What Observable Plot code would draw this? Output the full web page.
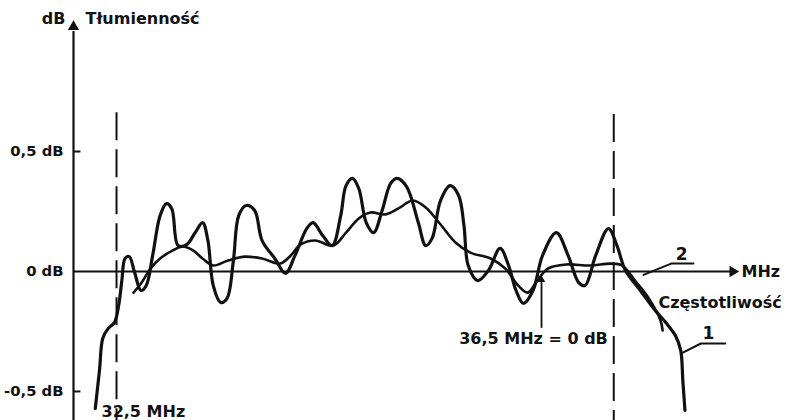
<!DOCTYPE html>
<html><head><meta charset="utf-8">
<script src="https://cdn.jsdelivr.net/npm/d3@7"></script>
<script src="https://cdn.jsdelivr.net/npm/@observablehq/plot@0.6"></script>
<style>body{margin:0;background:#fff} svg{display:block}</style>
</head><body><div id="chart"></div>
<script>
// Curve 1 (thick, strongly rippled)
const curve1MHz = [32.30,32.34,32.37,32.42,32.48,32.52,32.55,32.58,32.62,32.67,32.73,32.78,32.84,32.91,32.97,33.02,33.08,33.16,33.24,33.31,33.36,33.41,33.48,33.54,33.60,33.65,33.72,33.80,33.87,33.99,34.09,34.18,34.29,34.35,34.44,34.53,34.61,34.66,34.72,34.78,34.85,34.92,35.00,35.08,35.14,35.23,35.34,35.41,35.47,35.55,35.64,35.72,35.77,35.81,35.90,36.00,36.11,36.19,36.26,36.33,36.42,36.51,36.64,36.75,36.85,36.91,37.01,37.13,37.21,37.29,37.43,37.57,37.67,37.76,37.81,37.83,37.85];
const curve1dB = [-0.571,-0.41,-0.279,-0.238,-0.213,-0.142,-0.038,0.054,0.062,-0.004,-0.079,-0.058,0.067,0.233,0.283,0.262,0.108,0.112,0.162,0.204,0.129,-0.058,-0.129,-0.112,0.046,0.233,0.275,0.254,0.129,0.054,-0.008,0.067,0.179,0.204,0.15,0.108,0.233,0.358,0.388,0.346,0.204,0.162,0.254,0.367,0.388,0.354,0.204,0.108,0.138,0.296,0.358,0.317,0.192,0.025,-0.038,0.004,0.096,0.025,-0.079,-0.133,-0.079,0.067,0.162,0.067,-0.046,-0.058,0.067,0.179,0.108,0.004,-0.079,-0.162,-0.213,-0.267,-0.329,-0.454,-0.579];
// Curve 2 (thinner, smoother)
const curve2MHz = [32.66,32.73,32.82,32.91,33.03,33.12,33.22,33.31,33.41,33.55,33.71,33.87,34.04,34.14,34.23,34.37,34.54,34.66,34.78,34.89,35.03,35.15,35.29,35.41,35.55,35.69,35.83,36.02,36.16,36.28,36.37,36.46,36.56,36.73,36.96,37.15,37.26,37.38,37.51,37.62,37.64];
const curve2dB = [-0.088,-0.05,0.012,0.054,0.088,0.104,0.088,0.054,0.025,0.046,0.062,0.054,0.033,0.067,0.112,0.129,0.108,0.162,0.221,0.246,0.238,0.262,0.296,0.267,0.196,0.121,0.079,0.054,0.012,-0.058,-0.088,-0.038,0.012,0.029,0.025,0.033,0.025,-0.038,-0.112,-0.204,-0.246];

const yTicks = [0.5, 0, -0.5];
const yTickLabels = ["0,5 dB", "0 dB", "-0,5 dB"];
const markerMHz = [32.5, 37.18];
const refMHz = 36.5;
const xMin = 32.095, xMax = 38.354, yMin = -0.621, yMax = 1.067;

const c1 = curve1MHz.map((f, i) => ({f, db: curve1dB[i]}));
const c2 = curve2MHz.map((f, i) => ({f, db: curve2dB[i]}));

const FONT = "'DejaVu Sans', sans-serif";
const txt = (data, o) => Plot.text(data, {fill: "#111", fontSize: 16, fontWeight: "bold", fontFamily: FONT, ...o});

const chart = Plot.plot({
  width: 796, height: 420,
  marginTop: 0, marginBottom: 0, marginLeft: 0, marginRight: 0,
  x: {domain: [xMin, xMax], range: [73, 738], axis: null},
  y: {domain: [yMin, yMax], range: [420, 15], axis: null},
  style: {background: "#fff"},
  marks: [
    // dashed markers
    Plot.ruleX(markerMHz, {x: d => d, y1: [0.662, 0.654], y2: yMin, stroke: "#111", strokeWidth: 2, strokeDasharray: "28,9"}),
    // axes
    Plot.ruleX([xMin], {y1: yMin, y2: 1.0, stroke: "#111", strokeWidth: 2.2}),
    Plot.dot([{f: xMin, db: 1.02}], {x: "f", y: "db", symbol: "triangle", r: 4.2, fill: "#111", stroke: "none"}),
    Plot.ruleY([0], {x1: xMin, x2: 38.31, stroke: "#111", strokeWidth: 1.8}),
    Plot.dot([{f: 38.30, db: 0}], {x: "f", y: "db", symbol: "triangle", rotate: 90, r: 4.2, fill: "#111", stroke: "none"}),
    Plot.ruleY([0.5, -0.5], {x1: xMin, x2: 32.165, stroke: "#111", strokeWidth: 2}),
    txt(yTicks.map((v, i) => ({v, t: yTickLabels[i]})), {x: xMin, y: "v", text: "t", textAnchor: "end", dx: -10, fontSize: 14.8}),
    // curves
    Plot.line(c2, {x: "f", y: "db", curve: "catmull-rom", stroke: "#111", strokeWidth: 2.6}),
    Plot.line(c1, {x: "f", y: "db", curve: "catmull-rom", stroke: "#111", strokeWidth: 3.2}),
    // leaders for curve labels
    Plot.line([{f: 37.46, db: -0.014}, {f: 37.72, db: 0.033}, {f: 37.93, db: 0.033}], {x: "f", y: "db", stroke: "#111", strokeWidth: 2}),
    Plot.line([{f: 37.83, db: -0.338}, {f: 38.0, db: -0.30}, {f: 38.23, db: -0.30}], {x: "f", y: "db", stroke: "#111", strokeWidth: 2}),
    txt([{f: 37.82, db: 0.072, t: "2"}], {x: "f", y: "db", text: "t", fontSize: 17}),
    txt([{f: 38.07, db: -0.258, t: "1"}], {x: "f", y: "db", text: "t", fontSize: 17}),
    // 36.5 MHz reference arrow
    Plot.link([{f: refMHz, a: -0.235, b: -0.04}], {x1: "f", x2: "f", y1: "a", y2: "b", stroke: "#111", strokeWidth: 1.8}),
    Plot.dot([{f: refMHz, db: -0.035}], {x: "f", y: "db", symbol: "triangle", r: 2.8, fill: "#111", stroke: "none"}),
    // texts
    txt([{f: xMin, db: 1.054, t: "dB"}], {x: "f", y: "db", text: "t", textAnchor: "end", dx: -8}),
    txt([{f: xMin, db: 1.054, t: "Tłumienność"}], {x: "f", y: "db", text: "t", textAnchor: "start", dx: 12}),
    txt([{f: xMax, db: 0, t: "MHz"}], {x: "f", y: "db", text: "t", textAnchor: "start", dx: 3}),
    txt([{f: 37.60, db: -0.129, t: "Częstotliwość"}], {x: "f", y: "db", text: "t", textAnchor: "start"}),
    txt([{f: refMHz, db: -0.28, t: "36,5 MHz = 0 dB"}], {x: "f", y: "db", text: "t", textAnchor: "middle", dx: -8}),
    txt([{f: 32.5, db: -0.585, t: "32,5 MHz"}], {x: "f", y: "db", text: "t", textAnchor: "start", dx: -15})
  ]
});
document.getElementById("chart").append(chart);
</script>
</body></html>
